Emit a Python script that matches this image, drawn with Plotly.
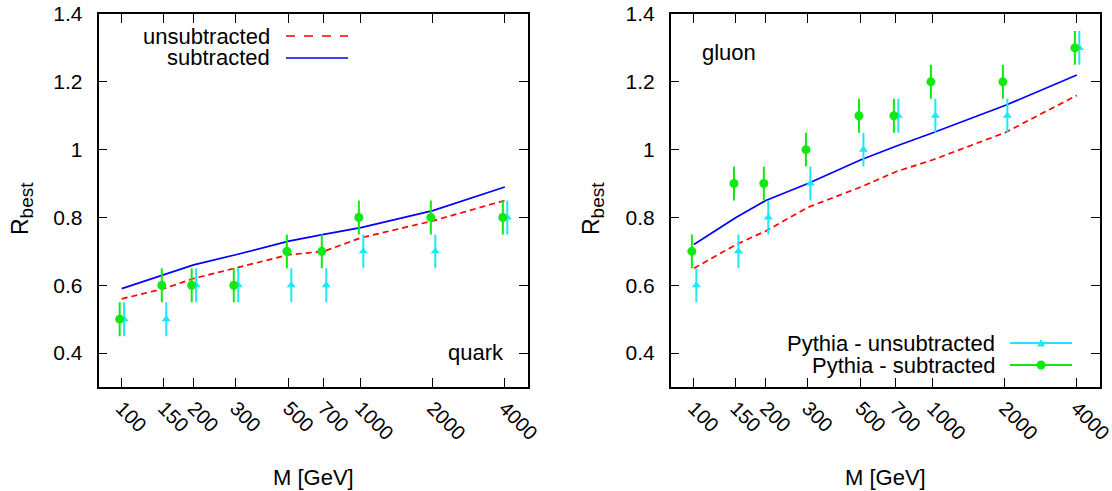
import plotly.graph_objects as go

# ---------------- data ----------------
M = [100, 150, 200, 300, 500, 700, 1000, 2000, 4000]
tick_labels = ["100", "150", "200", "300", "500", "700", "1000", "2000", "4000"]

quark_unsub_line = [0.56, 0.59, 0.62, 0.65, 0.69, 0.70, 0.74, 0.79, 0.85]
quark_sub_line = [0.59, 0.63, 0.66, 0.69, 0.73, 0.75, 0.77, 0.82, 0.89]
quark_pythia_unsub = [0.5, 0.5, 0.6, 0.6, 0.6, 0.6, 0.7, 0.7, 0.8]
quark_pythia_sub = [0.5, 0.6, 0.6, 0.6, 0.7, 0.7, 0.8, 0.8, 0.8]

gluon_unsub_line = [0.65, 0.72, 0.76, 0.83, 0.89, 0.935, 0.97, 1.05, 1.16]
gluon_sub_line = [0.72, 0.80, 0.85, 0.90, 0.97, 1.01, 1.05, 1.13, 1.22]
gluon_pythia_unsub = [0.6, 0.7, 0.8, 0.9, 1.0, 1.1, 1.1, 1.1, 1.3]
gluon_pythia_sub = [0.7, 0.9, 0.9, 1.0, 1.1, 1.1, 1.2, 1.2, 1.3]

pythia_err = [0.05] * len(M)

# small horizontal offsets so the two Pythia series do not overlap
OFF_SUB = 0.981
OFF_UNSUB = 1.024

RED = "#ff0000"
BLUE = "#0000ff"
GREEN = "#12e812"
CYAN = "#1ee8f5"
FONT = "Liberation Sans, Arial, Helvetica, sans-serif"
FS = 22
TFS = 21
XFS = 20

W, H = 1112, 491
fig = go.Figure()


def add_panel(xa, ya, unsub, sub, p_unsub, p_sub):
    fig.add_trace(go.Scatter(x=M, y=unsub, mode="lines", xaxis=xa, yaxis=ya,
                             line=dict(color=RED, width=1.7, dash="6px,4px"),
                             showlegend=False))
    fig.add_trace(go.Scatter(x=M, y=sub, mode="lines", xaxis=xa, yaxis=ya,
                             line=dict(color=BLUE, width=1.7), showlegend=False))
    fig.add_trace(go.Scatter(x=[m * OFF_UNSUB for m in M], y=p_unsub, mode="markers",
                             xaxis=xa, yaxis=ya,
                             marker=dict(symbol="triangle-up", size=8, color=CYAN),
                             error_y=dict(type="data", array=pythia_err, color=CYAN,
                                          thickness=2, width=0),
                             showlegend=False))
    fig.add_trace(go.Scatter(x=[m * OFF_SUB for m in M], y=p_sub, mode="markers",
                             xaxis=xa, yaxis=ya,
                             marker=dict(symbol="circle", size=9, color=GREEN),
                             error_y=dict(type="data", array=pythia_err, color=GREEN,
                                          thickness=2, width=0),
                             showlegend=False))


add_panel("x", "y", quark_unsub_line, quark_sub_line, quark_pythia_unsub, quark_pythia_sub)
add_panel("x2", "y2", gluon_unsub_line, gluon_sub_line, gluon_pythia_unsub, gluon_pythia_sub)

ydom = [1 - 387 / H, 1 - 14 / H]
xdom1 = [98.5 / W, 528 / W]
xdom2 = [670.7 / W, 1100 / W]

xcommon = dict(type="log", range=[1.90309, 3.69897], tickvals=M, ticktext=tick_labels,
               tickangle=45, ticks="inside", ticklen=9, tickwidth=1, tickcolor="black",
               showline=True, linecolor="black", linewidth=1.5, mirror="ticks",
               showgrid=False, zeroline=False, automargin=False,
               ticklabeloverflow="allow",
               tickfont=dict(family=FONT, size=XFS, color="black"))
ycommon = dict(range=[0.3, 1.4], tickvals=[0.4, 0.6, 0.8, 1.0, 1.2, 1.4],
               ticktext=["0.4", "0.6", "0.8", "1", "1.2", "1.4"],
               ticks="inside", ticklen=9, tickwidth=1, tickcolor="black",
               showline=True, linecolor="black", linewidth=1.5, mirror="ticks",
               showgrid=False, zeroline=False, automargin=False, ticklabelstandoff=10,
               ticklabeloverflow="allow",
               tickfont=dict(family=FONT, size=TFS, color="black"), domain=ydom)

fig.update_layout(
    width=W, height=H, margin=dict(l=0, r=0, t=0, b=0),
    paper_bgcolor="white", plot_bgcolor="white",
    font=dict(family=FONT, size=FS, color="black"),
    xaxis=dict(domain=xdom1, anchor="y", **xcommon),
    yaxis=dict(anchor="x", **ycommon),
    xaxis2=dict(domain=xdom2, anchor="y2", **xcommon),
    yaxis2=dict(anchor="x2", **ycommon),
    showlegend=False,
)

ann = []
shapes = []


def px(x):
    return x / W


def py(y):
    return 1 - y / H


# axis titles
for xc, cx in ((313, 22), (885, 593)):
    ann.append(dict(x=px(xc), y=py(477), xref="paper", yref="paper", text="M [GeV]",
                    showarrow=False, xanchor="center", yanchor="middle",
                    font=dict(family=FONT, size=FS)))
    ann.append(dict(x=px(cx), y=py(209), xref="paper", yref="paper",
                    text="R<sub><span style='font-size:19px'>best</span></sub>",
                    textangle=-90, showarrow=False,
                    xanchor="center", yanchor="middle", font=dict(family=FONT, size=23)))

# panel labels
ann.append(dict(x=px(506), y=py(352), xref="paper", yref="paper", text="quark",
                showarrow=False, xanchor="right", yanchor="middle",
                font=dict(family=FONT, size=FS)))
ann.append(dict(x=px(700), y=py(52), xref="paper", yref="paper", text="gluon",
                showarrow=False, xanchor="left", yanchor="middle",
                font=dict(family=FONT, size=FS)))

# legend, left panel (theory curves)
for label, yrow, color, dash in (("unsubtracted", 36, RED, "dash"),
                                 ("subtracted", 58, BLUE, "solid")):
    ann.append(dict(x=px(272), y=py(yrow), xref="paper", yref="paper", text=label,
                    showarrow=False, xanchor="right", yanchor="middle",
                    font=dict(family=FONT, size=FS)))
    shapes.append(dict(type="line", xref="paper", yref="paper",
                       x0=px(286), x1=px(348), y0=py(yrow), y1=py(yrow),
                       line=dict(color=color, width=1.7, dash=dash)))

# legend, right panel (Pythia points)
for label, yrow, color, sym in (("Pythia - unsubtracted", 343, CYAN, "tri"),
                                ("Pythia - subtracted", 365, GREEN, "circ")):
    ann.append(dict(x=px(997), y=py(yrow), xref="paper", yref="paper", text=label,
                    showarrow=False, xanchor="right", yanchor="middle",
                    font=dict(family=FONT, size=FS)))
    shapes.append(dict(type="line", xref="paper", yref="paper",
                       x0=px(1010), x1=px(1072), y0=py(yrow), y1=py(yrow),
                       line=dict(color=color, width=2)))
    cx, cy = 1041, yrow
    if sym == "circ":
        shapes.append(dict(type="circle", xref="paper", yref="paper",
                           x0=px(cx - 4.5), x1=px(cx + 4.5), y0=py(cy + 4.5), y1=py(cy - 4.5),
                           fillcolor=color, line=dict(color=color, width=0)))
    else:
        path = "M {} {} L {} {} L {} {} Z".format(px(cx - 4), py(cy + 3.5), px(cx + 4),
                                                  py(cy + 3.5), px(cx), py(cy - 4))
        shapes.append(dict(type="path", xref="paper", yref="paper", path=path,
                           fillcolor=color, line=dict(color=color, width=0)))

fig.update_layout(annotations=ann, shapes=shapes)
fig.write_html("out.html",
               config={"displayModeBar": False},
               post_script="document.body.style.margin='0';"
                           "document.body.style.overflow='hidden';")
